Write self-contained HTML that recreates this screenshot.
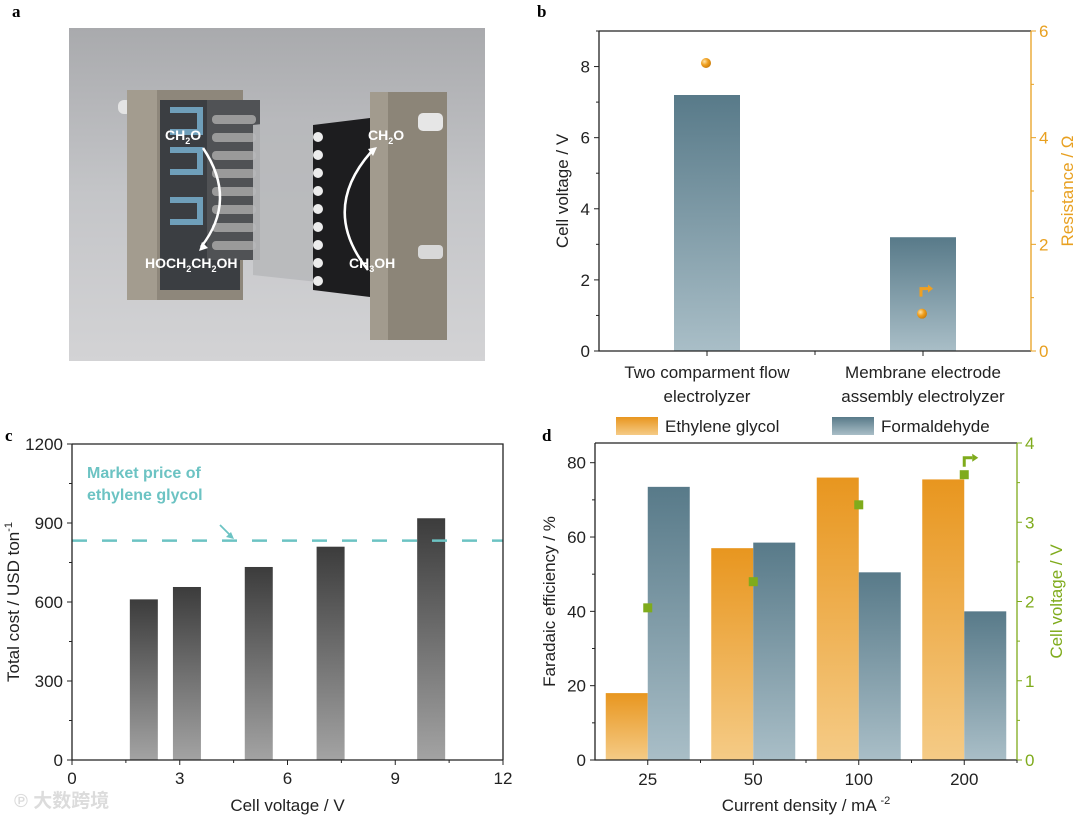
<!DOCTYPE html>
<html><head><meta charset="utf-8">
<style>
html,body{margin:0;padding:0;background:#fff;}
svg{display:block;font-family:"Liberation Sans","Noto Sans CJK SC",sans-serif;}
.pl{font-family:"Liberation Serif",serif;font-weight:bold;font-size:17px;}
</style></head>
<body>
<svg id="fig" width="1080" height="821" viewBox="0 0 1080 821" xmlns="http://www.w3.org/2000/svg">
<defs>
<linearGradient id="gBlue" x1="0" y1="0" x2="0" y2="1"><stop offset="0" stop-color="#587a89"/><stop offset="1" stop-color="#a9bec7"/></linearGradient>
<linearGradient id="gOr" x1="0" y1="0" x2="0" y2="1"><stop offset="0" stop-color="#e8961f"/><stop offset="1" stop-color="#f5cb86"/></linearGradient>
<linearGradient id="gGray" x1="0" y1="0" x2="0" y2="1"><stop offset="0" stop-color="#3c3c3c"/><stop offset="1" stop-color="#a3a3a3"/></linearGradient>
<linearGradient id="gBg" x1="0" y1="0" x2="0" y2="1"><stop offset="0" stop-color="#a9aaad"/><stop offset="0.5" stop-color="#c4c5c8"/><stop offset="1" stop-color="#d3d3d5"/></linearGradient>
<radialGradient id="gBall" cx="0.35" cy="0.35" r="0.7"><stop offset="0" stop-color="#fde3a8"/><stop offset="0.5" stop-color="#f0a020"/><stop offset="1" stop-color="#c97b0a"/></radialGradient>
</defs>

<text class="pl" x="12" y="17">a</text>
<text class="pl" x="537" y="17">b</text>
<text class="pl" x="5" y="441">c</text>
<text class="pl" x="542" y="441">d</text>

<g>
<rect x="69" y="28" width="416" height="333" fill="url(#gBg)"/>
<rect x="118" y="100" width="14" height="14" rx="6" fill="#e4e4e4"/>
<rect x="127" y="90" width="116" height="210" fill="#8e877b"/>
<rect x="127" y="90" width="30" height="210" fill="#a39c8f"/>
<rect x="160" y="100" width="80" height="190" fill="#3b3e42"/>
<path d="M170 110 h30 v22 h-30 M170 150 h30 v22 h-30 M170 200 h30 v22 h-30" fill="none" stroke="#6f9fba" stroke-width="6"/>
<rect x="207" y="100" width="53" height="160" fill="#505255"/>
<g fill="#9a9a9a"><rect x="212" y="115" width="44" height="9" rx="4"/><rect x="212" y="133" width="44" height="9" rx="4"/><rect x="212" y="151" width="44" height="9" rx="4"/><rect x="212" y="169" width="44" height="9" rx="4"/><rect x="212" y="187" width="44" height="9" rx="4"/><rect x="212" y="205" width="44" height="9" rx="4"/><rect x="212" y="223" width="44" height="9" rx="4"/><rect x="212" y="241" width="44" height="9" rx="4"/></g>
<polygon points="253,125 327,117 327,283 253,275" fill="#b8b9bb" opacity="0.9"/>
<polygon points="313,125 370,118 370,297 313,290" fill="#1d1d1f"/>
<g fill="#ececec"><circle cx="318" cy="137" r="5"/><circle cx="318" cy="155" r="5"/><circle cx="318" cy="173" r="5"/><circle cx="318" cy="191" r="5"/><circle cx="318" cy="209" r="5"/><circle cx="318" cy="227" r="5"/><circle cx="318" cy="245" r="5"/><circle cx="318" cy="263" r="5"/><circle cx="318" cy="281" r="5"/></g>
<rect x="370" y="92" width="77" height="248" fill="#8c8578"/>
<rect x="370" y="92" width="18" height="248" fill="#a29b8e"/>
<rect x="418" y="113" width="25" height="18" rx="5" fill="#e6e6e6"/>
<rect x="418" y="245" width="25" height="14" rx="4" fill="#d8d8d8"/>
<path d="M203 148 Q238 200 201 247" fill="none" stroke="#fff" stroke-width="2.5"/>
<path d="M202 242 l-3 9 l9 -3 z" fill="#fff"/>
<path d="M368 270 Q320 210 371 152" fill="none" stroke="#fff" stroke-width="2.5"/>
<path d="M377 147 l-9 2 l5 7 z" fill="#fff"/>
<g fill="#fff" font-size="14" font-weight="bold">
<text x="165" y="140">CH<tspan font-size="9" dy="4">2</tspan><tspan dy="-4">O</tspan></text>
<text x="368" y="140">CH<tspan font-size="9" dy="4">2</tspan><tspan dy="-4">O</tspan></text>
<text x="145" y="268">HOCH<tspan font-size="9" dy="4">2</tspan><tspan dy="-4">CH</tspan><tspan font-size="9" dy="4">2</tspan><tspan dy="-4">OH</tspan></text>
<text x="349" y="268">CH<tspan font-size="9" dy="4">3</tspan><tspan dy="-4">OH</tspan></text>
</g>
</g>

<g id="pb"></g>
<g id="pc"></g>
<g id="pd"></g>

<text x="14" y="807" font-size="19" fill="#dcdcdc" font-weight="bold">℗ 大数跨境</text>
</svg>
<script>
const bCats = ["Two comparment flow|electrolyzer","Membrane electrode|assembly electrolyzer"];
const bVoltage = [7.2, 3.2];
const bResist = [5.4, 0.7];
const bLeftTicks = [0,2,4,6,8];
const bRightTicks = [0,2,4,6];
const cVolt = [2.0, 3.2, 5.2, 7.2, 10.0];
const cCost = [610, 657, 733, 810, 918];
const cMarket = 833;
const cXTicks = [0,3,6,9,12];
const cYTicks = [0,300,600,900,1200];
const dCats = ["25","50","100","200"];
const dEG = [18, 57, 76, 75.5];
const dFA = [73.5, 58.5, 50.5, 40];
const dCellV = [1.92, 2.25, 3.22, 3.6];
const dLeftTicks = [0,20,40,60,80];
const dRightTicks = [0,1,2,3,4];

const NS="http://www.w3.org/2000/svg";
function mk(parent,tag,attrs,txt){const e=document.createElementNS(NS,tag);for(const k in attrs)e.setAttribute(k,attrs[k]);if(txt!==undefined)e.textContent=txt;parent.appendChild(e);return e;}

(function(){
const g=document.getElementById('pb');
const L=599,R=1031,T=31,B=351;
const y=v=>B-(v/9)*(B-T);
const yr=v=>B-(v/6)*(B-T);
const band=(R-L)/bCats.length;
const cx=i=>L+band*(i+0.5);
bVoltage.forEach((v,i)=>{
 const r=mk(g,'rect',{x:cx(i)-33,y:y(v),width:66,height:B-y(v),fill:'url(#gBlue)'});
 
 
});
bResist.forEach((v,i)=>{
 const c=mk(g,'circle',{cx:cx(i)-1,cy:yr(v),r:5,fill:'url(#gBall)'});
 
 
});
mk(g,'path',{d:`M${cx(1)-2} ${yr(bResist[1])-17} v-8 h7`,stroke:'#f0a020','stroke-width':3,fill:'none'});
mk(g,'path',{d:`M${cx(1)+5} ${yr(bResist[1])-29} l5 4 l-5 4 z`,fill:'#f0a020'});
mk(g,'path',{d:`M${L} ${T} H${R} M${L} ${T} V${B} H${R}`,stroke:'#222',fill:'none','stroke-width':1.3});
mk(g,'line',{x1:R,y1:T,x2:R,y2:B,stroke:'#e8a020','stroke-width':1.3});
bLeftTicks.forEach(t=>{mk(g,'line',{x1:L,y1:y(t),x2:L-5,y2:y(t),stroke:'#222'});
 const tx=mk(g,'text',{x:L-9,y:y(t)+6,'text-anchor':'end','font-size':17,fill:'#222'},t);
 
 mk(g,'line',{x1:L,y1:y(t+1),x2:L-3,y2:y(t+1),stroke:'#222'});});
bRightTicks.forEach(t=>{mk(g,'line',{x1:R,y1:yr(t),x2:R+5,y2:yr(t),stroke:'#e8a020'});
 const tx=mk(g,'text',{x:R+8,y:yr(t)+6,'font-size':17,fill:'#e8a020'},t);
 
 if(t<6)mk(g,'line',{x1:R,y1:yr(t+1),x2:R+3,y2:yr(t+1),stroke:'#e8a020'});});
bCats.forEach((c,i)=>{mk(g,'line',{x1:cx(i),y1:B,x2:cx(i),y2:B+5,stroke:'#222'});
 const p=c.split('|');
 const t1=mk(g,'text',{x:cx(i),y:B+27,'text-anchor':'middle','font-size':17,fill:'#222'},p[0]);
 
 mk(g,'text',{x:cx(i),y:B+51,'text-anchor':'middle','font-size':17,fill:'#222'},p[1]);});
mk(g,'line',{x1:L+band,y1:B,x2:L+band,y2:B+4,stroke:'#222'});
const yl=mk(g,'text',{transform:`translate(568,${(T+B)/2}) rotate(-90)`,'text-anchor':'middle','font-size':17,fill:'#222'},'Cell voltage / V');

const yr2=mk(g,'text',{transform:`translate(1073,${(T+B)/2}) rotate(-90)`,'text-anchor':'middle','font-size':17,fill:'#e8a020'},'Resistance / Ω');

})();

(function(){
const g=document.getElementById('pc');
const L=72,R=503,T=444,B=760;
const x=v=>L+(v/12)*(R-L);
const y=v=>B-(v/1200)*(B-T);
cVolt.forEach((v,i)=>{
 const r=mk(g,'rect',{x:x(v)-14,y:y(cCost[i]),width:28,height:B-y(cCost[i]),fill:'url(#gGray)'});
 
 
});
const ml=mk(g,'line',{x1:L,y1:y(cMarket),x2:R,y2:y(cMarket),stroke:'#6cc3c3','stroke-width':2.5,'stroke-dasharray':'15 15'});

mk(g,'text',{x:87,y:478,'font-size':16,'font-weight':'bold',fill:'#6cc3c3'},'Market price of');
mk(g,'text',{x:87,y:500,'font-size':16,'font-weight':'bold',fill:'#6cc3c3'},'ethylene glycol');
mk(g,'line',{x1:220,y1:525,x2:231,y2:536,stroke:'#6cc3c3','stroke-width':1.8});
mk(g,'path',{d:'M234 539 l-8 -2 l5 -5 z',fill:'#6cc3c3'});
mk(g,'path',{d:`M${L} ${T} H${R} V${B} M${L} ${T} V${B} H${R}`,stroke:'#222',fill:'none','stroke-width':1.3});
cXTicks.forEach(t=>{mk(g,'line',{x1:x(t),y1:B,x2:x(t),y2:B+5,stroke:'#222'});
 const tx=mk(g,'text',{x:x(t),y:B+24,'text-anchor':'middle','font-size':17,fill:'#222'},t);
 
 if(t<12)mk(g,'line',{x1:x(t+1.5),y1:B,x2:x(t+1.5),y2:B+3,stroke:'#222'});});
cYTicks.forEach(t=>{mk(g,'line',{x1:L,y1:y(t),x2:L-5,y2:y(t),stroke:'#222'});
 const tx=mk(g,'text',{x:L-9,y:y(t)+6,'text-anchor':'end','font-size':17,fill:'#222'},t);
 
 if(t<1200)mk(g,'line',{x1:L,y1:y(t+150),x2:L-3,y2:y(t+150),stroke:'#222'});});
const xl=mk(g,'text',{x:(L+R)/2,y:811,'text-anchor':'middle','font-size':17,fill:'#222'},'Cell voltage / V');

const yl=mk(g,'text',{transform:`translate(19,${(T+B)/2}) rotate(-90)`,'text-anchor':'middle','font-size':17,fill:'#222'});

yl.textContent='Total cost / USD ton';
mk(yl,'tspan',{'font-size':11,dy:-7},'-1');
})();

(function(){
const g=document.getElementById('pd');
const L=595,R=1017,T=443,B=760;
const y=v=>B-(v/85.3)*(B-T);
const yr=v=>B-(v/4)*(B-T);
const band=(R-L)/dCats.length;
const cx=i=>L+band*(i+0.5);
const bw=42;
dEG.forEach((v,i)=>{
 const r=mk(g,'rect',{x:cx(i)-bw,y:y(v),width:bw,height:B-y(v),fill:'url(#gOr)'});
 
 
});
dFA.forEach((v,i)=>{
 const r=mk(g,'rect',{x:cx(i),y:y(v),width:bw,height:B-y(v),fill:'url(#gBlue)'});
 
 
});
dCellV.forEach((v,i)=>{
 const s=mk(g,'rect',{x:cx(i)-4.5,y:yr(v)-4.5,width:9,height:9,fill:'#7fab1c'});
 
 
});
const lx=cx(3);
mk(g,'path',{d:`M${lx} ${yr(dCellV[3])-8} v-9 h8`,stroke:'#7fab1c','stroke-width':3,fill:'none'});
mk(g,'path',{d:`M${lx+8} ${yr(dCellV[3])-21} l6 4 l-6 4 z`,fill:'#7fab1c'});
mk(g,'path',{d:`M${L} ${T} H${R} M${L} ${T} V${B} H${R}`,stroke:'#222',fill:'none','stroke-width':1.3});
mk(g,'line',{x1:R,y1:T,x2:R,y2:B,stroke:'#7fab1c','stroke-width':1.3});
dLeftTicks.forEach(t=>{mk(g,'line',{x1:L,y1:y(t),x2:L-5,y2:y(t),stroke:'#222'});
 const tx=mk(g,'text',{x:L-9,y:y(t)+6,'text-anchor':'end','font-size':17,fill:'#222'},t);
 
 if(t<80)mk(g,'line',{x1:L,y1:y(t+10),x2:L-3,y2:y(t+10),stroke:'#222'});});
dRightTicks.forEach(t=>{mk(g,'line',{x1:R,y1:yr(t),x2:R+5,y2:yr(t),stroke:'#7fab1c'});
 const tx=mk(g,'text',{x:R+8,y:yr(t)+6,'font-size':17,fill:'#7fab1c'},t);
 
 if(t<4)mk(g,'line',{x1:R,y1:yr(t+0.5),x2:R+3,y2:yr(t+0.5),stroke:'#7fab1c'});});
dCats.forEach((c,i)=>{mk(g,'line',{x1:cx(i),y1:B,x2:cx(i),y2:B+5,stroke:'#222'});
 mk(g,'line',{x1:L+band*(i+1),y1:B,x2:L+band*(i+1),y2:B+3,stroke:'#222'});
 const tx=mk(g,'text',{x:cx(i),y:B+25,'text-anchor':'middle','font-size':17,fill:'#222'},c);
 });
const xl=mk(g,'text',{x:(L+R)/2,y:811,'text-anchor':'middle','font-size':17,fill:'#222'});

xl.textContent='Current density / mA ';
mk(xl,'tspan',{'font-size':11,dy:-7},'-2');
const yl=mk(g,'text',{transform:`translate(555,${(T+B)/2}) rotate(-90)`,'text-anchor':'middle','font-size':17,fill:'#222'},'Faradaic efficiency / %');

const yr2=mk(g,'text',{transform:`translate(1062,${(T+B)/2}) rotate(-90)`,'text-anchor':'middle','font-size':17,fill:'#7fab1c'},'Cell voltage / V');

const le1=mk(g,'rect',{x:616,y:417,width:42,height:18,fill:'url(#gOr)'});

const lt1=mk(g,'text',{x:665,y:432,'font-size':17,fill:'#222'},'Ethylene glycol');

const le2=mk(g,'rect',{x:832,y:417,width:42,height:18,fill:'url(#gBlue)'});

const lt2=mk(g,'text',{x:881,y:432,'font-size':17,fill:'#222'},'Formaldehyde');

})();
</script>
</body></html>
